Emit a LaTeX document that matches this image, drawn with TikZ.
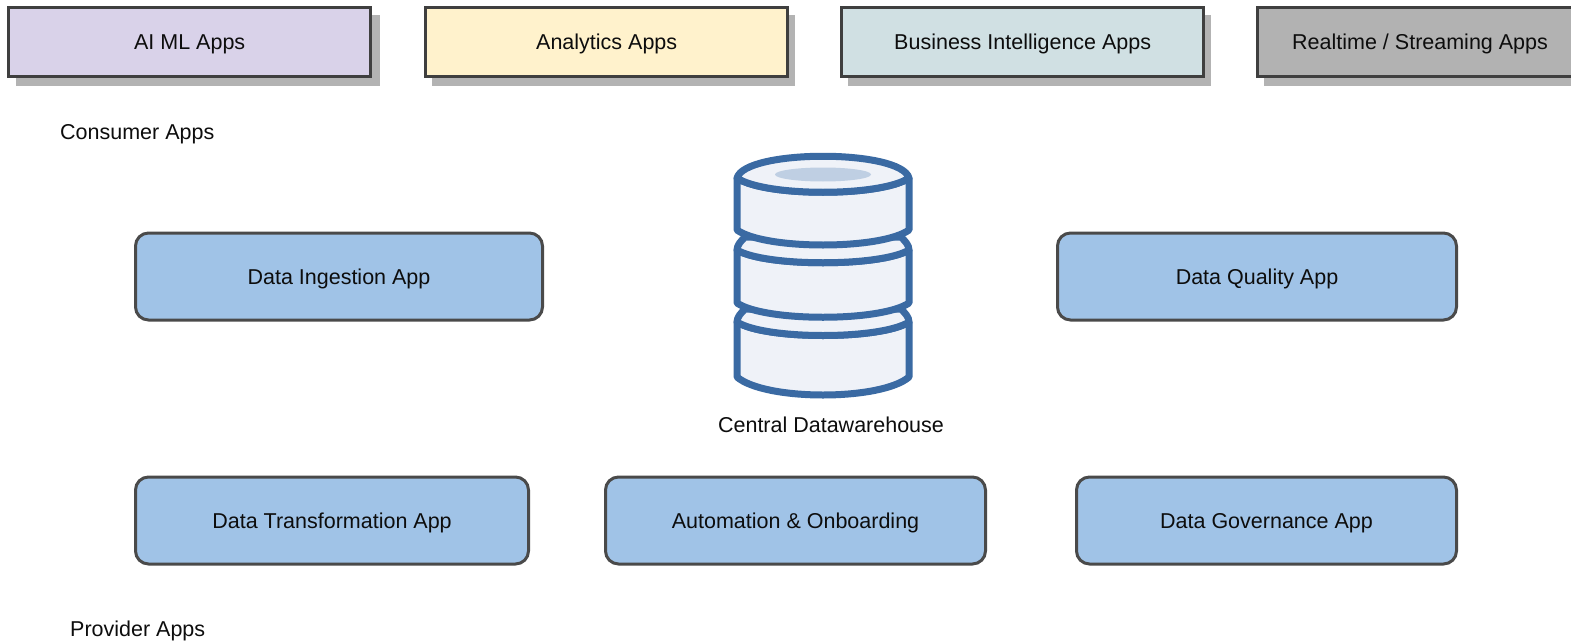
\documentclass[tikz,border=0pt]{standalone}
\usepackage{fontspec}
\setmainfont{Liberation Sans}
\begin{document}
\begin{tikzpicture}[x=1pt,y=-1pt,
 appbox/.style={draw=boxline,line width=3.4pt,anchor=north west,inner sep=0pt,minimum height=69pt},
 svc/.style={draw=svcline,line width=3pt,fill=svcblue,rounded corners=13pt,inner sep=0pt,minimum height=87pt,anchor=north west},
 lbl/.style={inner sep=0pt,font=\fontsize{21.5}{25}\selectfont,text=black!95,text height=15.5pt,text depth=4.5pt,yshift=-2pt},
 cyl/.style={draw=dbblue,line width=7pt,fill=dbfill,line join=round}]
\definecolor{boxline}{HTML}{3F3F3F}
\definecolor{svcline}{HTML}{4A4A4A}
\definecolor{shadowgray}{HTML}{B3B3B3}
\definecolor{svcblue}{HTML}{A0C3E7}
\definecolor{dbblue}{HTML}{3A6AA3}
\definecolor{dbfill}{HTML}{EFF2F8}
\definecolor{dbtop}{HTML}{BFCFE3}
\useasboundingbox (0,0) rectangle (1571,642);
\fill[white] (0,0) rectangle (1571,642);
% consumer boxes
\foreach \x/\w in {8/363,424/362,840/362,1256/330}{
  \fill[shadowgray] (\x+8,15) rectangle (\x+\w+8.5,85.5);
}
\node[appbox,fill={rgb,255:red,217;green,210;blue,233},minimum width=362pt] (ai) at (7,6) {};
\node[appbox,fill={rgb,255:red,255;green,242;blue,204},minimum width=362pt] (an) at (424,6) {};
\node[appbox,fill={rgb,255:red,208;green,224;blue,227},minimum width=362pt] (bi) at (840,6) {};
\node[appbox,fill={rgb,255:red,178;green,178;blue,178},minimum width=340pt] (rt) at (1256,6) {};
\node[lbl] at (ai.center) {AI ML Apps};
\node[lbl] at (an.center) {Analytics Apps};
\node[lbl] at (bi.center) {Business Intelligence Apps};
\node[lbl,anchor=west] at (1292,42.5) {Realtime / Streaming Apps};
\node[lbl,anchor=west] (consumer) at (60,132) {Consumer Apps};
% services
\node[svc,minimum width=407pt] (ing) at (134,231.5) {};
\node[svc,minimum width=399pt] (qual) at (1056,231.5) {};
\node[svc,minimum width=393pt] (trans) at (134,475.5) {};
\node[svc,minimum width=380pt] (auto) at (604,475.5) {};
\node[svc,minimum width=380pt] (gov) at (1075,475.5) {};
\node[lbl] at (ing.center) {Data Ingestion App};
\node[lbl] at (qual.center) {Data Quality App};
\node[lbl] at (trans.center) {Data Transformation App};
\node[lbl] at (auto.center) {Automation \& Onboarding};
\node[lbl] at (gov.center) {Data Governance App};
\node[lbl,anchor=west] (provider) at (70,629) {Provider Apps};
\node[lbl] (dw) at (831,425) {Central Datawarehouse};
% database
\path[cyl] (737,322) -- (737,377) .. controls (765,401) and (881,401) .. (909,377) -- (909,322)
  .. controls (881,340) and (765,340) .. (737,322) -- cycle;
\path[cyl] (737,322) .. controls (737,317) and (741,313) .. (745,309) -- (901,309) .. controls (905,313) and (909,317) .. (909,322)
  .. controls (881,340) and (765,340) .. (737,322) -- cycle;
\path[cyl] (737,250) -- (737,303) .. controls (765,322) and (881,322) .. (909,303) -- (909,250)
  .. controls (881,267) and (765,267) .. (737,250) -- cycle;
\path[cyl] (737,250) .. controls (737,245) and (741,241) .. (745,237) -- (901,237) .. controls (905,241) and (909,245) .. (909,250)
  .. controls (881,267) and (765,267) .. (737,250) -- cycle;
\path[cyl] (737,178) -- (737,230) .. controls (765,250) and (881,250) .. (909,230) -- (909,178)
  .. controls (881,197) and (765,197) .. (737,178) -- cycle;
\path[cyl] (737,178) .. controls (745,149) and (901,149) .. (909,178)
  .. controls (881,197) and (765,197) .. (737,178) -- cycle;
\fill[dbtop] (823,174.5) ellipse [x radius=48pt,y radius=7pt];
\end{tikzpicture}
\end{document}
